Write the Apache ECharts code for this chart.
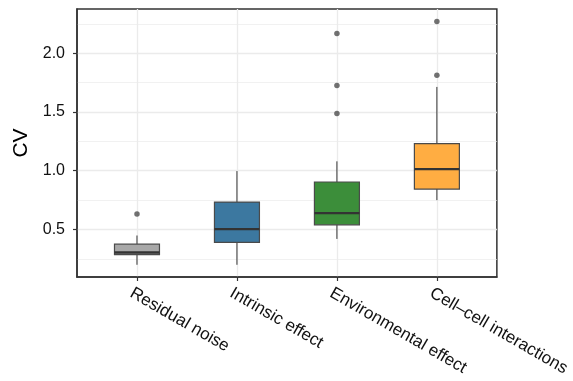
<!DOCTYPE html>
<html>
<head>
<meta charset="utf-8">
<script src="https://cdn.jsdelivr.net/npm/echarts@6/dist/echarts.min.js"></script>
<style>
  html, body { margin: 0; padding: 0; background: #ffffff; }
  #chart { width: 573px; height: 381px; }
</style>
</head>
<body>
<div id="chart"></div>
<script>
// Coefficient of variation by source of variability
const categories = ['Residual noise', 'Intrinsic effect', 'Environmental effect', 'Cell\u2013cell interactions'];
const whiskerLow  = [0.20, 0.20, 0.42, 0.75];
const q1          = [0.287, 0.39, 0.54, 0.844];
const median      = [0.304, 0.503, 0.639, 1.014];
const q3          = [0.375, 0.733, 0.904, 1.23];
const whiskerHigh = [0.449, 0.997, 1.08, 1.713];
const outliers    = [[0.633], [], [1.486, 1.725, 2.168], [1.813, 2.27]];
const yMajorTicks = [0.5, 1.0, 1.5, 2.0];
const yMinorTicks = [0.25, 0.75, 1.25, 1.75, 2.25];

const palette = ['#A8A8A8', '#3C78A0', '#3C8E3A', '#FFAD42'];
const ink = '#333333';
const gridGrey = '#EBEBEB';
const font = '"Liberation Sans", Arial, Helvetica, sans-serif';

const xPos = categories.map((c, i) => i + 1);

const boxData = categories.map((c, i) => ({
  value: [xPos[i], whiskerLow[i], q1[i], median[i], q3[i], whiskerHigh[i]],
  itemStyle: { color: palette[i] }
}));

const outlierData = [];
outliers.forEach((vals, i) => vals.forEach(v => outlierData.push([xPos[i], v])));

const yMin = 0.096, yMax = 2.376;

const chart = echarts.init(document.getElementById('chart'), null, { renderer: 'canvas' });

chart.setOption({
  animation: false,
  backgroundColor: '#ffffff',
  grid: {
    left: 77, right: 75, top: 9, bottom: 104,
    show: true, borderColor: ink, borderWidth: 1.5, backgroundColor: 'transparent'
  },
  xAxis: {
    type: 'value',
    min: 0.4, max: 4.6,
    axisLine: { show: true, onZero: false, lineStyle: { color: ink, width: 1.5 } },
    axisTick: { show: true, length: 4, customValues: xPos, lineStyle: { color: ink, width: 1.2 } },
    axisLabel: {
      customValues: xPos,
      formatter: v => categories[Math.round(v) - 1] || '',
      rotate: -30,
      align: 'left',
      verticalAlign: 'top',
      margin: 5,
      padding: [3, 0, 0, 0],
      color: '#111111',
      fontSize: 17,
      fontFamily: font
    },
    splitLine: { show: true, lineStyle: { color: gridGrey, width: 1.3 } }
  },
  yAxis: [
    {
      type: 'value',
      min: yMin, max: yMax,
      name: 'CV',
      nameLocation: 'middle',
      nameRotate: 90,
      nameGap: 41,
      nameTextStyle: { fontSize: 21, color: '#000', fontFamily: font },
      axisLine: { show: true, onZero: false, lineStyle: { color: ink, width: 1.5 } },
      axisTick: { show: true, length: 4, customValues: yMajorTicks, lineStyle: { color: ink, width: 1.2 } },
      axisLabel: {
        customValues: yMajorTicks,
        formatter: v => v.toFixed(1),
        margin: 12,
        color: '#111111',
        fontSize: 16,
        fontFamily: font
      },
      splitLine: { show: true, lineStyle: { color: gridGrey, width: 1.3 } }
    },
    {
      type: 'value',
      min: yMin, max: yMax,
      position: 'left',
      axisLine: { show: false },
      axisTick: { show: false, customValues: yMinorTicks },
      axisLabel: { show: false, customValues: yMinorTicks },
      splitLine: { show: true, lineStyle: { color: gridGrey, width: 0.7 } }
    }
  ],
  series: [
    {
      type: 'custom',
      name: 'box',
      xAxisIndex: 0,
      yAxisIndex: 0,
      data: boxData,
      encode: { x: 0, y: [1, 2, 3, 4, 5] },
      renderItem: function (params, api) {
        const x = api.value(0);
        const pLo = api.coord([x, api.value(1)]);
        const pQ1 = api.coord([x, api.value(2)]);
        const pMed = api.coord([x, api.value(3)]);
        const pQ3 = api.coord([x, api.value(4)]);
        const pHi = api.coord([x, api.value(5)]);
        const halfW = api.size([0.45, 0])[0] / 2;
        const fill = palette[params.dataIndex];
        return {
          type: 'group',
          children: [
            { type: 'line', shape: { x1: pLo[0], y1: pLo[1], x2: pQ1[0], y2: pQ1[1] },
              style: { stroke: ink, lineWidth: 1 } },
            { type: 'line', shape: { x1: pQ3[0], y1: pQ3[1], x2: pHi[0], y2: pHi[1] },
              style: { stroke: ink, lineWidth: 1 } },
            { type: 'rect', shape: { x: pQ1[0] - halfW, y: pQ3[1], width: 2 * halfW, height: pQ1[1] - pQ3[1] },
              style: { fill: fill, stroke: '#4a4a4a', lineWidth: 1.2 } },
            { type: 'line', shape: { x1: pMed[0] - halfW, y1: pMed[1], x2: pMed[0] + halfW, y2: pMed[1] },
              style: { stroke: ink, lineWidth: 2.4 } }
          ]
        };
      },
      z: 3
    },
    {
      type: 'scatter',
      name: 'outliers',
      xAxisIndex: 0,
      yAxisIndex: 0,
      data: outlierData,
      symbol: 'circle',
      symbolSize: 5.5,
      itemStyle: { color: '#4d4d4d' },
      z: 4
    }
  ]
});
</script>
</body>
</html>
